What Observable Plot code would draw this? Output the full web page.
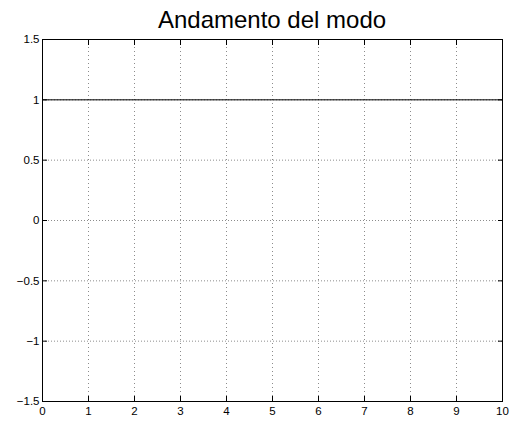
<!DOCTYPE html>
<html>
<head>
<meta charset="utf-8">
<script src="https://cdn.jsdelivr.net/npm/d3@7"></script>
<script src="https://cdn.jsdelivr.net/npm/@observablehq/plot@0.6"></script>
<style>
  html, body { margin: 0; padding: 0; background: #fff; }
  #wrap { position: relative; width: 514px; height: 421px; font-family: "Liberation Sans", Arial, sans-serif; }
  #title { position: absolute; left: 42px; width: 460px; top: 8px; line-height: 24px; font-size: 24px; text-align: center; color: #000; }
</style>
</head>
<body>
<div id="wrap">
  <div id="title">Andamento del modo</div>
  <div id="chart"></div>
</div>
<script>
const titleText = "Andamento del modo";
const time = [0, 10];
const mode = [1, 1];
const xTicks = [0, 1, 2, 3, 4, 5, 6, 7, 8, 9, 10];
const yTicks = [-1.5, -1, -0.5, 0, 0.5, 1, 1.5];

const data = time.map((t, i) => ({t, v: mode[i]}));
const blank = () => "";
const fmt = d3.format("");

const chart = Plot.plot({
  width: 514,
  height: 421,
  marginLeft: 42,
  marginRight: 12,
  marginTop: 39,
  marginBottom: 20,
  style: {fontFamily: "'Liberation Sans', Arial, sans-serif", fontSize: "11.5px", background: "#fff", color: "#000"},
  x: {domain: [0, 10]},
  y: {domain: [-1.5, 1.5]},
  marks: [
    Plot.ruleX(xTicks, {stroke: "#000", strokeOpacity: 0.45, strokeDasharray: "1,3"}),
    Plot.ruleY(yTicks, {stroke: "#000", strokeOpacity: 0.45, strokeDasharray: "1,2"}),
    Plot.axisX({anchor: "bottom", ticks: xTicks, tickSize: -5, tickPadding: 10, tickFormat: fmt, label: null}),
    Plot.axisX({anchor: "top", ticks: xTicks, tickSize: -5, tickFormat: blank, label: null}),
    Plot.axisY({anchor: "left", ticks: yTicks, tickSize: -5, tickPadding: 8, tickFormat: fmt, label: null}),
    Plot.axisY({anchor: "right", ticks: yTicks, tickSize: -5, tickFormat: blank, label: null}),
    Plot.frame({stroke: "#000"}),
    Plot.lineY(data, {x: "t", y: "v", stroke: "#000", strokeWidth: 1})
  ]
});
document.getElementById("chart").appendChild(chart);
</script>
</body>
</html>
